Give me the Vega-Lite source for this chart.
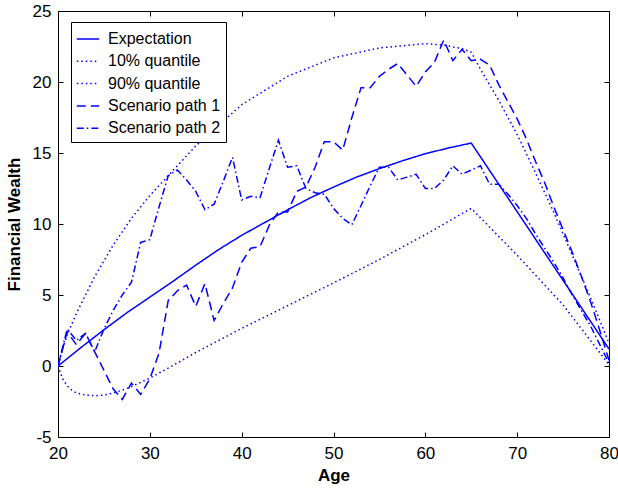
{
  "$schema": "https://vega.github.io/schema/vega-lite/v6.json",
  "autosize": {"type": "none"},
  "padding": {"left": 58, "top": 11, "right": 9, "bottom": 53},
  "width": 551,
  "height": 426,
  "background": "white",
  "config": {
    "view": {"stroke": "black", "strokeWidth": 1},
    "font": "Liberation Sans",
    "axis": {"grid": false, "domainColor": "black", "tickColor": "black", "labelColor": "black", "titleColor": "black", "labelFont": "Liberation Sans", "titleFont": "Liberation Sans", "labelFontSize": 17, "titleFontSize": 17, "titleFontWeight": "bold", "labelFlush": false}
  },
  "datasets": {
    "wealth": [
      {"series": "Expectation", "age": 20, "value": 0},
      {"series": "Expectation", "age": 22.5, "value": 1.3},
      {"series": "Expectation", "age": 25, "value": 2.55},
      {"series": "Expectation", "age": 27.5, "value": 3.75},
      {"series": "Expectation", "age": 30, "value": 4.85},
      {"series": "Expectation", "age": 32.5, "value": 5.95},
      {"series": "Expectation", "age": 35, "value": 7.1},
      {"series": "Expectation", "age": 37.5, "value": 8.2},
      {"series": "Expectation", "age": 40, "value": 9.2},
      {"series": "Expectation", "age": 42.5, "value": 10.1},
      {"series": "Expectation", "age": 45, "value": 11.0},
      {"series": "Expectation", "age": 47.5, "value": 11.85},
      {"series": "Expectation", "age": 50, "value": 12.6},
      {"series": "Expectation", "age": 52.5, "value": 13.3},
      {"series": "Expectation", "age": 55, "value": 13.9},
      {"series": "Expectation", "age": 57.5, "value": 14.45},
      {"series": "Expectation", "age": 60, "value": 14.95},
      {"series": "Expectation", "age": 62.5, "value": 15.35},
      {"series": "Expectation", "age": 65, "value": 15.7},
      {"series": "Expectation", "age": 80, "value": 1.2},

      {"series": "10% quantile", "age": 20, "value": 0},
      {"series": "10% quantile", "age": 20.5, "value": -0.9},
      {"series": "10% quantile", "age": 21, "value": -1.4},
      {"series": "10% quantile", "age": 21.5, "value": -1.7},
      {"series": "10% quantile", "age": 22, "value": -1.9},
      {"series": "10% quantile", "age": 23, "value": -2.05},
      {"series": "10% quantile", "age": 24, "value": -2.1},
      {"series": "10% quantile", "age": 25, "value": -2.05},
      {"series": "10% quantile", "age": 26, "value": -1.9},
      {"series": "10% quantile", "age": 27, "value": -1.7},
      {"series": "10% quantile", "age": 28, "value": -1.45},
      {"series": "10% quantile", "age": 29, "value": -1.15},
      {"series": "10% quantile", "age": 30, "value": -0.85},
      {"series": "10% quantile", "age": 32, "value": -0.15},
      {"series": "10% quantile", "age": 35, "value": 0.95},
      {"series": "10% quantile", "age": 40, "value": 2.65},
      {"series": "10% quantile", "age": 45, "value": 4.25},
      {"series": "10% quantile", "age": 50, "value": 5.85},
      {"series": "10% quantile", "age": 55, "value": 7.5},
      {"series": "10% quantile", "age": 60, "value": 9.25},
      {"series": "10% quantile", "age": 65, "value": 11.1},
      {"series": "10% quantile", "age": 70, "value": 7.8},
      {"series": "10% quantile", "age": 75, "value": 4.3},
      {"series": "10% quantile", "age": 80, "value": 0.1},

      {"series": "90% quantile", "age": 20, "value": 0},
      {"series": "90% quantile", "age": 20.5, "value": 1.2},
      {"series": "90% quantile", "age": 21, "value": 2.2},
      {"series": "90% quantile", "age": 22, "value": 3.7},
      {"series": "90% quantile", "age": 23, "value": 5.0},
      {"series": "90% quantile", "age": 24, "value": 6.3},
      {"series": "90% quantile", "age": 25, "value": 7.4},
      {"series": "90% quantile", "age": 26, "value": 8.5},
      {"series": "90% quantile", "age": 28, "value": 10.4},
      {"series": "90% quantile", "age": 30, "value": 12.0},
      {"series": "90% quantile", "age": 32, "value": 13.4},
      {"series": "90% quantile", "age": 35, "value": 15.5},
      {"series": "90% quantile", "age": 40, "value": 18.4},
      {"series": "90% quantile", "age": 45, "value": 20.4},
      {"series": "90% quantile", "age": 50, "value": 21.7},
      {"series": "90% quantile", "age": 55, "value": 22.4},
      {"series": "90% quantile", "age": 60, "value": 22.7},
      {"series": "90% quantile", "age": 62, "value": 22.6},
      {"series": "90% quantile", "age": 64, "value": 22.35},
      {"series": "90% quantile", "age": 65, "value": 22.1},
      {"series": "90% quantile", "age": 66, "value": 20.9},
      {"series": "90% quantile", "age": 68, "value": 18.7},
      {"series": "90% quantile", "age": 70, "value": 16.3},
      {"series": "90% quantile", "age": 72, "value": 13.6},
      {"series": "90% quantile", "age": 74, "value": 10.8},
      {"series": "90% quantile", "age": 76, "value": 7.8},
      {"series": "90% quantile", "age": 78, "value": 4.8},
      {"series": "90% quantile", "age": 80, "value": 1.6},

      {"series": "Scenario path 1", "age": 20, "value": 0},
      {"series": "Scenario path 1", "age": 21, "value": 2.4},
      {"series": "Scenario path 1", "age": 22, "value": 1.5},
      {"series": "Scenario path 1", "age": 23, "value": 2.3},
      {"series": "Scenario path 1", "age": 24, "value": 1.0},
      {"series": "Scenario path 1", "age": 25, "value": -0.3},
      {"series": "Scenario path 1", "age": 26, "value": -1.6},
      {"series": "Scenario path 1", "age": 27, "value": -2.35},
      {"series": "Scenario path 1", "age": 28, "value": -1.2},
      {"series": "Scenario path 1", "age": 29, "value": -2.0},
      {"series": "Scenario path 1", "age": 30, "value": -0.9},
      {"series": "Scenario path 1", "age": 31, "value": 0.9},
      {"series": "Scenario path 1", "age": 32, "value": 4.6},
      {"series": "Scenario path 1", "age": 33, "value": 5.3},
      {"series": "Scenario path 1", "age": 34, "value": 5.7},
      {"series": "Scenario path 1", "age": 35, "value": 4.2},
      {"series": "Scenario path 1", "age": 36, "value": 5.8},
      {"series": "Scenario path 1", "age": 37, "value": 3.2},
      {"series": "Scenario path 1", "age": 38, "value": 4.4},
      {"series": "Scenario path 1", "age": 39, "value": 5.5},
      {"series": "Scenario path 1", "age": 40, "value": 7.3},
      {"series": "Scenario path 1", "age": 41, "value": 8.3},
      {"series": "Scenario path 1", "age": 42, "value": 8.4},
      {"series": "Scenario path 1", "age": 43, "value": 9.9},
      {"series": "Scenario path 1", "age": 44, "value": 10.85},
      {"series": "Scenario path 1", "age": 45, "value": 10.85},
      {"series": "Scenario path 1", "age": 46, "value": 12.3},
      {"series": "Scenario path 1", "age": 47, "value": 12.6},
      {"series": "Scenario path 1", "age": 48, "value": 14.0},
      {"series": "Scenario path 1", "age": 49, "value": 15.8},
      {"series": "Scenario path 1", "age": 50, "value": 15.8},
      {"series": "Scenario path 1", "age": 51, "value": 15.2},
      {"series": "Scenario path 1", "age": 52, "value": 17.5},
      {"series": "Scenario path 1", "age": 53, "value": 19.6},
      {"series": "Scenario path 1", "age": 54, "value": 19.6},
      {"series": "Scenario path 1", "age": 55, "value": 20.4},
      {"series": "Scenario path 1", "age": 56, "value": 20.9},
      {"series": "Scenario path 1", "age": 57, "value": 21.3},
      {"series": "Scenario path 1", "age": 58, "value": 20.5},
      {"series": "Scenario path 1", "age": 59, "value": 19.7},
      {"series": "Scenario path 1", "age": 60, "value": 20.7},
      {"series": "Scenario path 1", "age": 61, "value": 21.4},
      {"series": "Scenario path 1", "age": 62, "value": 22.95},
      {"series": "Scenario path 1", "age": 63, "value": 21.5},
      {"series": "Scenario path 1", "age": 64, "value": 22.3},
      {"series": "Scenario path 1", "age": 65, "value": 21.5},
      {"series": "Scenario path 1", "age": 66, "value": 21.6},
      {"series": "Scenario path 1", "age": 67, "value": 21.2},
      {"series": "Scenario path 1", "age": 68, "value": 19.8},
      {"series": "Scenario path 1", "age": 69, "value": 18.6},
      {"series": "Scenario path 1", "age": 70, "value": 17.4},
      {"series": "Scenario path 1", "age": 71, "value": 16.0},
      {"series": "Scenario path 1", "age": 72, "value": 14.4},
      {"series": "Scenario path 1", "age": 73, "value": 12.9},
      {"series": "Scenario path 1", "age": 74, "value": 11.2},
      {"series": "Scenario path 1", "age": 75, "value": 9.6},
      {"series": "Scenario path 1", "age": 76, "value": 8.0},
      {"series": "Scenario path 1", "age": 77, "value": 6.3},
      {"series": "Scenario path 1", "age": 78, "value": 4.5},
      {"series": "Scenario path 1", "age": 79, "value": 2.5},
      {"series": "Scenario path 1", "age": 80, "value": 0.4},

      {"series": "Scenario path 2", "age": 20, "value": 0},
      {"series": "Scenario path 2", "age": 21, "value": 2.6},
      {"series": "Scenario path 2", "age": 22, "value": 1.8},
      {"series": "Scenario path 2", "age": 23, "value": 2.3},
      {"series": "Scenario path 2", "age": 24, "value": 1.0},
      {"series": "Scenario path 2", "age": 25, "value": 2.6},
      {"series": "Scenario path 2", "age": 26, "value": 3.9},
      {"series": "Scenario path 2", "age": 27, "value": 5.0},
      {"series": "Scenario path 2", "age": 28, "value": 5.9},
      {"series": "Scenario path 2", "age": 29, "value": 8.7},
      {"series": "Scenario path 2", "age": 30, "value": 8.9},
      {"series": "Scenario path 2", "age": 31, "value": 11.2},
      {"series": "Scenario path 2", "age": 32, "value": 13.4},
      {"series": "Scenario path 2", "age": 33, "value": 13.8},
      {"series": "Scenario path 2", "age": 34, "value": 13.1},
      {"series": "Scenario path 2", "age": 35, "value": 12.3},
      {"series": "Scenario path 2", "age": 36, "value": 11.0},
      {"series": "Scenario path 2", "age": 37, "value": 11.4},
      {"series": "Scenario path 2", "age": 38, "value": 13.0},
      {"series": "Scenario path 2", "age": 39, "value": 14.7},
      {"series": "Scenario path 2", "age": 40, "value": 11.7},
      {"series": "Scenario path 2", "age": 41, "value": 11.95},
      {"series": "Scenario path 2", "age": 42, "value": 11.85},
      {"series": "Scenario path 2", "age": 43, "value": 13.9},
      {"series": "Scenario path 2", "age": 44, "value": 15.9},
      {"series": "Scenario path 2", "age": 45, "value": 14.0},
      {"series": "Scenario path 2", "age": 46, "value": 14.1},
      {"series": "Scenario path 2", "age": 47, "value": 12.5},
      {"series": "Scenario path 2", "age": 48, "value": 12.2},
      {"series": "Scenario path 2", "age": 49, "value": 12.1},
      {"series": "Scenario path 2", "age": 50, "value": 11.1},
      {"series": "Scenario path 2", "age": 51, "value": 10.4},
      {"series": "Scenario path 2", "age": 52, "value": 9.95},
      {"series": "Scenario path 2", "age": 53, "value": 11.3},
      {"series": "Scenario path 2", "age": 54, "value": 12.7},
      {"series": "Scenario path 2", "age": 55, "value": 14.0},
      {"series": "Scenario path 2", "age": 56, "value": 14.0},
      {"series": "Scenario path 2", "age": 57, "value": 13.1},
      {"series": "Scenario path 2", "age": 58, "value": 13.3},
      {"series": "Scenario path 2", "age": 59, "value": 13.5},
      {"series": "Scenario path 2", "age": 60, "value": 12.5},
      {"series": "Scenario path 2", "age": 61, "value": 12.5},
      {"series": "Scenario path 2", "age": 62, "value": 13.1},
      {"series": "Scenario path 2", "age": 63, "value": 14.1},
      {"series": "Scenario path 2", "age": 64, "value": 13.5},
      {"series": "Scenario path 2", "age": 65, "value": 13.8},
      {"series": "Scenario path 2", "age": 66, "value": 14.1},
      {"series": "Scenario path 2", "age": 67, "value": 12.8},
      {"series": "Scenario path 2", "age": 68, "value": 12.8},
      {"series": "Scenario path 2", "age": 69, "value": 12.1},
      {"series": "Scenario path 2", "age": 70, "value": 11.3},
      {"series": "Scenario path 2", "age": 71, "value": 10.4},
      {"series": "Scenario path 2", "age": 72, "value": 9.3},
      {"series": "Scenario path 2", "age": 73, "value": 8.3},
      {"series": "Scenario path 2", "age": 74, "value": 7.3},
      {"series": "Scenario path 2", "age": 75, "value": 6.2},
      {"series": "Scenario path 2", "age": 76, "value": 5.0},
      {"series": "Scenario path 2", "age": 77, "value": 3.9},
      {"series": "Scenario path 2", "age": 78, "value": 2.8},
      {"series": "Scenario path 2", "age": 79, "value": 1.5},
      {"series": "Scenario path 2", "age": 80, "value": 0.2}
    ]
  },
  "data": {"name": "wealth"},
  "resolve": {"axis": {"x": "independent", "y": "independent"}},
  "layer": [
    {
      "mark": {"type": "line", "strokeWidth": 1.5, "clip": true},
      "encoding": {
        "x": {"field": "age", "type": "quantitative", "scale": {"domain": [20, 80], "nice": false, "zero": false},
              "axis": {"orient": "bottom", "title": "Age", "values": [20, 30, 40, 50, 60, 70, 80], "tickSize": -5, "labelPadding": 13, "titlePadding": 6, "domain": false, "labelFlush": false}},
        "y": {"field": "value", "type": "quantitative", "scale": {"domain": [-5, 25], "nice": false, "zero": false},
              "axis": {"orient": "left", "title": "Financial Wealth", "values": [-5, 0, 5, 10, 15, 20, 25], "labelExpr": "toString(datum.value)", "tickSize": -5, "labelPadding": 12, "titlePadding": 9, "domain": false, "labelFlush": false}},
        "detail": {"field": "series"},
        "color": {"field": "series", "type": "nominal",
                  "scale": {"domain": ["Expectation", "10% quantile", "90% quantile", "Scenario path 1", "Scenario path 2"],
                            "range": ["#0000ff", "#0000ff", "#0000ff", "#0000ff", "#0000ff"]},
                  "legend": {"title": null, "orient": "none", "legendX": 13, "legendY": 11, "strokeColor": "black", "fillColor": "white", "padding": 5, "labelFont": "Liberation Sans", "labelFontSize": 16, "labelColor": "black", "symbolType": "stroke", "symbolSize": 500, "symbolStrokeWidth": 1.5, "rowPadding": 2.3, "labelOffset": 8}},
        "strokeDash": {"field": "series", "type": "nominal",
                  "scale": {"domain": ["Expectation", "10% quantile", "90% quantile", "Scenario path 1", "Scenario path 2"],
                            "range": [[1, 0], [1.5, 3], [1.5, 3], [9, 5], [7, 3, 1.5, 3]]},
                  "legend": {"title": null, "orient": "none", "legendX": 13, "legendY": 11, "strokeColor": "black", "fillColor": "white", "padding": 5, "labelFont": "Liberation Sans", "labelFontSize": 16, "labelColor": "black", "symbolType": "stroke", "symbolSize": 500, "symbolStrokeWidth": 1.5, "rowPadding": 2.3, "labelOffset": 8}}
      }
    },
    {
      "mark": {"type": "line", "opacity": 0},
      "encoding": {
        "x": {"field": "age", "type": "quantitative",
              "axis": {"orient": "top", "title": null, "labels": false, "values": [20, 30, 40, 50, 60, 70, 80], "tickSize": -5, "domain": false}},
        "y": {"field": "value", "type": "quantitative",
              "axis": {"orient": "right", "title": null, "labels": false, "values": [-5, 0, 5, 10, 15, 20, 25], "tickSize": -5, "domain": false}},
        "detail": {"field": "series"}
      }
    }
  ]
}
